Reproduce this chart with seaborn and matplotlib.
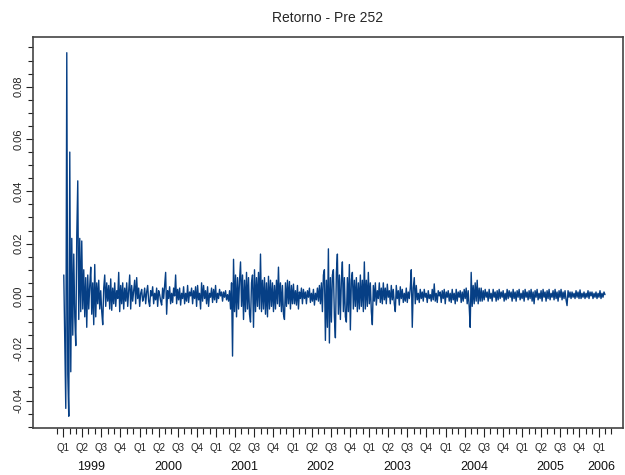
import numpy as np
import pandas as pd
import matplotlib
matplotlib.use("Agg")
import matplotlib.pyplot as plt
from matplotlib.transforms import blended_transform_factory
import seaborn as sns

# ---------------- data ----------------
title = "Retorno - Pre 252"
start_date = "1999-01-04"
end_date = "2006-01-31"
# daily returns, in per-mille (1 value ~ 1 pixel column)
ret_permille = [
    8, -17, -43, 93, -30, -46, 55, -29, 22, -15,
    16, -8, -19, 23, 44, -9, 22, -6, 21, -5,
    10, -8, 7, -12, 8, -5, 4, 11, -7, 5,
    -11, 12, -8, 5, -3, 6, -5, 2, -6, -11,
    3, 8, -4, 5, -2, 4, -5, 6.5, -5.5, 3,
    -3, 5, -4, 2, -1, 9, -6, 4, -3, 5,
    -5, 3, -2, 5, -4, 2, 8, -5, 4, -2,
    2, 6, -3, 7, -1, 3, -4, 1, 2.5, -2,
    -0.5, 3, -3, 1.5, 4, -2, -4, 2, 0, 3.5,
    -3, 1, -1.5, 3, -4, 2, 0.5, -2, -3.5, 3,
    -1, 4, 9, -7, 2, -1, 3.5, -3, 1, -2.5,
    3, 0, 8, -3, 2.5, -1.5, 3, -3.5, 1, -1,
    3.5, -3, 1, -2, 4, -2.5, 1.5, 0, 3, -3,
    2, -1, 3.5, -4, 4, -1.5, 1, -5, 5, -2,
    4, -1, 2, -3, 3.5, -4, 1, -0.5, 3, -2.5,
    2.5, -1.5, 4, -2.5, 1, -1, 2.5, 0, 1.5, -2,
    1.5, -0.5, 2, -1.5, 0.5, -2, 2, -5, 5, -23,
    14, -6, 8, -8, 7, -5, 6, 13, -4, 8,
    -9, 6, -6, 9, -5, 7, -7, -10, 5, 8,
    -12, 10, -6, 7, -4, 9, -5, 16, -6, 6,
    -5, 7, -7, 5, -8, 7.5, -5, 6, -4, 5,
    -6, 4, -5, 6, -3, 11, -4, 5, -6, 4,
    -7, -9, 5, -4, 6, -3, 5.5, -5, 4, -3,
    4.5, -3, 2, -3.5, 4, -5, 1.5, -1, 3, -3,
    2.5, -1, 1.5, -3, 2, -0.5, 3, -2.5, 1, -2,
    2.5, -3.5, 1, -1.5, 3, -2, 4, -3, 5, -6,
    8, 10, -17, 6, -12, 18, -18, 7, -10, 8,
    10, -8, -16, 9, 16, -7, 8, -9, 6, 13,
    -6, 7, -8, -10, 7, -6, 12, -13, 6, 9,
    -5, 6, -4, 7, -6, 5, -5, 8, -4, 6,
    -6, 13, -5, 6, -4, 9, -3, 5, -6, -11,
    4, -2, 5, -3.5, 2, -1, 5, -2.5, 3, -3,
    5, -1.5, 3, -3, 4.5, -0.5, 2, -3, 4, -1.5,
    2.5, -3, -6, 4, -1, 2, -3.5, 3.5, -1, 2.5,
    -2.5, 1, -2, 3, -2.5, 1.5, -1, 3, 10, -12,
    3, 7, -3, 4, -1.5, 1, -2.5, 2.5, -1, 1.5,
    -2, 2.5, -0.5, 1, -2.5, 2, -1, 0.5, -2, 2.5,
    -1.5, 4.6, -2, 1, -2.5, 2, 0, 1.5, -2.5, 2,
    -1, 2.5, -3, 1.5, -0.5, 2, -2, 1, -2.5, 2.5,
    -1.5, 1, -3, 2.5, -2, 1.5, -0.5, 2, -2.5, 1.5,
    -2, 2.5, -1, 3, -3, 2, -4, -12, 9, -4,
    4, -3, 5, -2, 6, -3, 3, -2, 3, -2,
    2, -1.5, 2.5, -0.5, 1.5, -2, 2.5, -1, 1, -2,
    2.5, -0.5, 1.5, -2, 2, -1.5, 2.5, -1, 1.5, -0.5,
    2, -2, 1, -1.5, 2.5, -1, 2, -0.5, 1.5, -2,
    2.5, -1, 1.5, -2, 2, -0.5, 2.5, -1.5, 1, -1,
    2, -2, 2.5, -0.5, 1.5, -1.5, 2, -1, 2.5, -2,
    1.5, -3, 2, -0.5, 2.5, -1.5, 1, -1, 2, -2,
    2.5, -0.5, 1.5, -2, 2, -1, 2.5, -1.5, 1, -0.5,
    2, -1.5, 2.5, -1, 1.5, -2, 2, -0.5, 2.5, -1.5,
    1.5, -1, 2, -1.5, -3.7, 2, -0.5, 1.5, -1, 1.5,
    -0.5, 1, -1, 2, -0.5, 1.5, -1, 2.3, -1, 1,
    -0.5, 1.5, -1, 1, -0.5, 2, -1, 1.5, 0, 1.5,
    -1, 1, -0.5, 1.5, -1, 1, -0.5, 2, -1, 1,
    -0.5, 1.5, 0.5,
]
quarter_labels = ["Q1", "Q2", "Q3", "Q4"]
years = [1999, 2000, 2001, 2002, 2003, 2004, 2005, 2006]
year_label_dates = ["1999-05-15", "2000-05-15", "2001-05-15", "2002-05-15",
                    "2003-05-15", "2004-05-15", "2005-05-15", "2006-01-12"]
y_ticks = [-0.04, -0.02, 0.0, 0.02, 0.04, 0.06, 0.08]

# ---------------- plot ----------------
sns.set_theme(style="ticks")
plt.rcParams["font.family"] = ["Liberation Sans", "DejaVu Sans"]

fig = plt.figure(figsize=(6.25, 4.75), dpi=100)
ax = fig.add_axes([33 / 625, 1 - 428 / 475, 590 / 625, 391 / 475])

df = pd.DataFrame({
    "date": pd.date_range(start_date, end_date, periods=len(ret_permille)),
    "ret": np.array(ret_permille) / 1000.0,
})
sns.lineplot(data=df, x="date", y="ret", ax=ax, color="#063f85",
             linewidth=1.0, estimator=None)

ax.set_xlim(pd.Timestamp("1998-08-10"), pd.Timestamp("2006-04-27"))
ax.set_ylim(-0.0505, 0.099)
ax.set_xlabel("")
ax.set_ylabel("")
ax.set_title(title, fontsize=10, pad=11)

# x axis: quarters (major), months (minor)
qdates = pd.date_range("1999-01-01", "2006-01-01", freq="QS")
ax.set_xticks(qdates)
ax.set_xticklabels([quarter_labels[(d.month - 1) // 3] for d in qdates], fontsize=7)
ax.set_xticks(pd.date_range("1998-12-01", "2006-03-01", freq="MS"), minor=True)
ax.tick_params(axis="x", which="major", direction="out", length=6.5, width=0.8,
               pad=4, colors="#222222")
ax.tick_params(axis="x", which="minor", direction="out", length=4, width=0.8,
               colors="#222222")

trans = blended_transform_factory(ax.transData, ax.transAxes)
for yr, d in zip(years, year_label_dates):
    ax.text(pd.Timestamp(d), -0.10, str(yr), transform=trans, ha="center",
            va="center", fontsize=9, color="#111111")

# y axis
ax.set_yticks(y_ticks)
ax.set_yticklabels([f"{v:.2f}" for v in y_ticks], fontsize=8, rotation=90,
                   va="center")
ax.set_yticks(np.arange(-0.05, 0.0951, 0.005), minor=True)
ax.tick_params(axis="y", which="major", direction="out", length=5, width=0.8,
               pad=2, colors="#222222")
ax.tick_params(axis="y", which="minor", direction="out", length=3.5, width=0.8,
               colors="#222222")

for s in ax.spines.values():
    s.set_visible(True)
    s.set_color("#444444")
    s.set_linewidth(1.2)

fig.savefig("out.png", dpi=100)
